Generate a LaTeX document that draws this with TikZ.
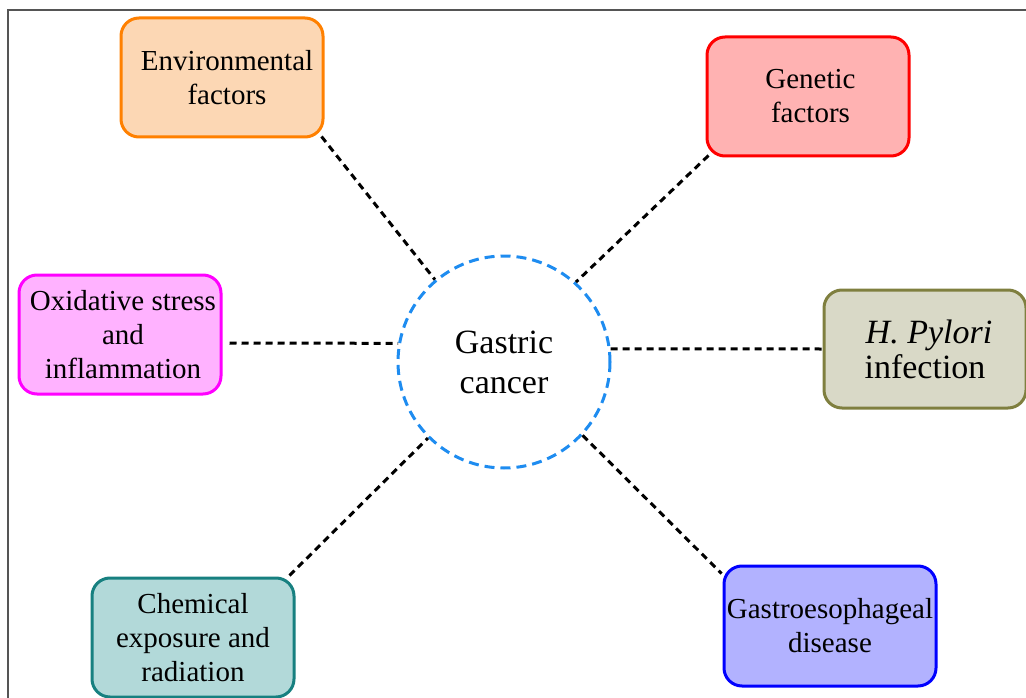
\documentclass[tikz,border=0pt]{standalone}
\usepackage{fontspec}
\setmainfont{Liberation Serif}
\usetikzlibrary{calc}
\definecolor{envB}{HTML}{FF8000}\definecolor{envF}{HTML}{FCD7B4}
\definecolor{genB}{HTML}{FF0000}\definecolor{genF}{HTML}{FFB2B2}
\definecolor{oxB}{HTML}{FF00FF}\definecolor{oxF}{HTML}{FFB2FF}
\definecolor{pyB}{HTML}{7F7F3F}\definecolor{pyF}{HTML}{D9D9C7}
\definecolor{chB}{HTML}{178080}\definecolor{chF}{HTML}{B2D9D9}
\definecolor{gaB}{HTML}{0000FF}\definecolor{gaF}{HTML}{B2B2FF}
\definecolor{circB}{HTML}{1E8CF0}
\definecolor{frameC}{HTML}{555555}
\tikzset{
  factor/.style={draw, line width=3pt, rounded corners=18pt, minimum width=202pt,
    minimum height=119pt, inner sep=0pt, align=center, text=black,
    font=\fontsize{29}{34}\selectfont},
  conn/.style={draw=black, line width=3pt, dash pattern=on 7pt off 5pt},
}
\begin{document}
\begin{tikzpicture}[x=1pt, y=-1pt]
\useasboundingbox (0,0) rectangle (1026,698);
\draw[frameC, line width=2pt] (8,698) -- (8,10) -- (1026,10);

\node[draw=circB, line width=3pt, dash pattern=on 10pt off 6pt, circle,
  minimum size=212pt, inner sep=0pt, align=center,
  font=\fontsize{34}{40}\selectfont] (gc) at (504,362) {Gastric\\cancer};

\node[factor, draw=envB, fill=envF] (env) at (222,77.5) {\hspace*{10pt}Environmental\\\hspace*{10pt}factors};
\node[factor, draw=genB, fill=genF] (gen) at (808,96.5) {\hspace*{5pt}Genetic\\\hspace*{5pt}factors};
\node[factor, draw=oxB, fill=oxF] (ox) at (120,334.5) {\hspace*{6pt}Oxidative stress\\\hspace*{6pt}and\\\hspace*{6pt}inflammation};
\node[factor, draw=pyB, fill=pyF, minimum height=118pt, font=\fontsize{34}{35}\selectfont] (py) at (925,349) {\hspace*{8pt}\textit{H. Pylori}\\infection};
\node[factor, draw=chB, fill=chF] (ch) at (193,637.5) {Chemical\\exposure and\\radiation};
\node[factor, draw=gaB, fill=gaF, minimum width=212pt, minimum height=120pt] (ga) at (830,626) {Gastroesophageal\\disease};

\draw[conn] ([shift={(-3,-2)}]env.south east) -- (gc.130);
\draw[conn] ([shift={(3,-2)}]gen.south west) -- (gc.48);
\draw[conn] ([shift={(7,8.5)}]ox.east) -- (gc.170);
\draw[conn] (gc.7) -- (py.west);
\draw[conn] ([shift={(-6,-1)}]ch.north east) -- (gc.225);
\draw[conn] (gc.-43) -- ([shift={(-1,9)}]ga.north west);
\end{tikzpicture}
\end{document}
